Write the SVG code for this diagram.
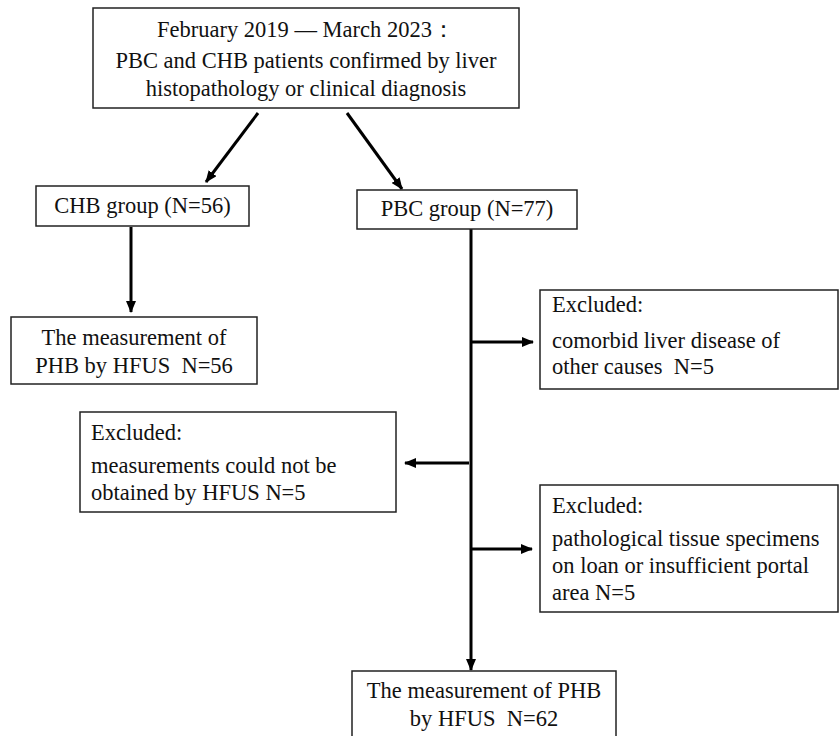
<svg xmlns="http://www.w3.org/2000/svg" width="840" height="736" viewBox="0 0 840 736">
<style>
.box{fill:#fff;stroke:#222;stroke-width:1.5}
.t{font-family:'Liberation Serif','Times New Roman',serif;font-size:22.5px;fill:#111}
.c{text-anchor:middle}
.conn{stroke:#000;stroke-width:3;fill:none}
</style>
<defs>
<marker id="ah" markerUnits="userSpaceOnUse" markerWidth="12" markerHeight="10" refX="11" refY="5" orient="auto">
<path d="M0,0 L12,5 L0,10 z" fill="#000"/>
</marker>
</defs>
<rect width="840" height="736" fill="#fff"/>
<g id="connectors">
<line class="conn" x1="258" y1="113" x2="206" y2="182" marker-end="url(#ah)"/>
<line class="conn" x1="347" y1="113" x2="402" y2="189" marker-end="url(#ah)"/>
<line class="conn" x1="131" y1="227" x2="131" y2="312" marker-end="url(#ah)"/>
<line class="conn" x1="471" y1="229" x2="471" y2="670" marker-end="url(#ah)"/>
<line class="conn" x1="471" y1="342" x2="533" y2="342" marker-end="url(#ah)"/>
<line class="conn" x1="469" y1="463" x2="405" y2="463" marker-end="url(#ah)"/>
<line class="conn" x1="471" y1="549" x2="532" y2="549" marker-end="url(#ah)"/>
</g>
<g id="n-top">
<rect class="box" x="93" y="8" width="426" height="100"/>
<text class="t c" x="306" y="37">February 2019 — March 2023：</text>
<text class="t c" x="306" y="68">PBC and CHB patients confirmed by liver</text>
<text class="t c" x="306" y="96">histopathology or clinical diagnosis</text>
</g>
<g id="n-chb">
<rect class="box" x="36" y="186" width="213" height="40"/>
<text class="t c" x="142.5" y="213">CHB group (N=56)</text>
</g>
<g id="n-pbc">
<rect class="box" x="357" y="190" width="220" height="39"/>
<text class="t c" x="467" y="216">PBC group (N=77)</text>
</g>
<g id="n-chb-meas">
<rect class="box" x="11" y="317" width="246" height="67"/>
<text class="t c" x="134" y="345">The measurement of</text>
<text class="t c" x="134" y="373">PHB by HFUS &#160;N=56</text>
</g>
<g id="n-excl1">
<rect class="box" x="540" y="290" width="298" height="99"/>
<text class="t" x="552" y="312">Excluded:</text>
<text class="t" x="552" y="348">comorbid liver disease of</text>
<text class="t" x="552" y="374">other causes &#160;N=5</text>
</g>
<g id="n-excl2">
<rect class="box" x="80" y="412" width="316" height="100"/>
<text class="t" x="91" y="440">Excluded:</text>
<text class="t" x="91" y="473">measurements could not be</text>
<text class="t" x="91" y="500">obtained by HFUS N=5</text>
</g>
<g id="n-excl3">
<rect class="box" x="540" y="485" width="298" height="127"/>
<text class="t" x="552" y="513">Excluded:</text>
<text class="t" x="552" y="546">pathological tissue specimens</text>
<text class="t" x="552" y="573">on loan or insufficient portal</text>
<text class="t" x="552" y="600">area N=5</text>
</g>
<g id="n-pbc-meas">
<rect class="box" x="352" y="671" width="264" height="80"/>
<text class="t c" x="484" y="698">The measurement of PHB</text>
<text class="t c" x="484" y="726">by HFUS &#160;N=62</text>
</g>
</svg>
